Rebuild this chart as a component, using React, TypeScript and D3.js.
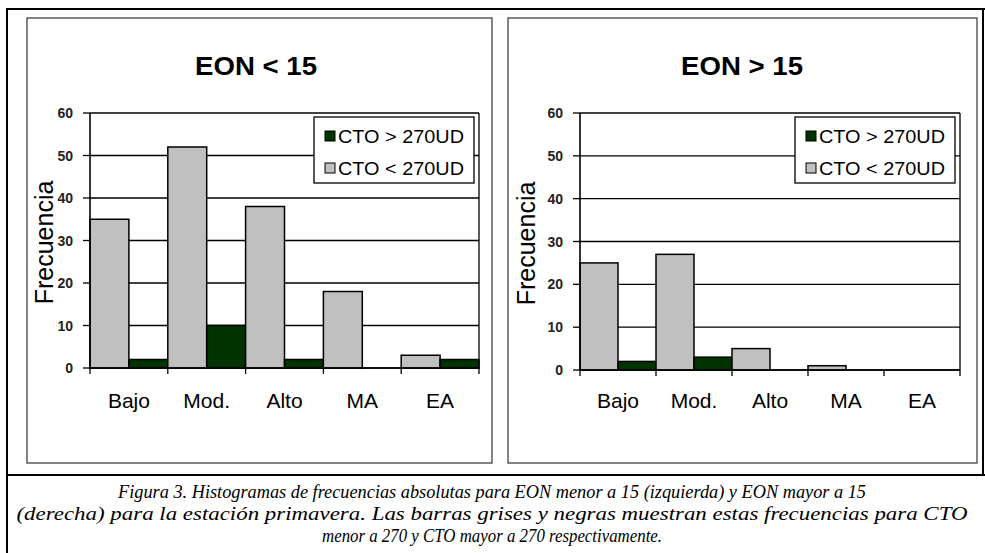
import React from "react";
import * as d3 from "d3";

// Frequency classes on the x axis
const categories = ["Bajo", "Mod.", "Alto", "MA", "EA"];
// Legend entries (dark series listed first)
const seriesHigh = "CTO > 270UD";
const seriesLow = "CTO < 270UD";

// EON < 15
const leftLow = [35, 52, 38, 18, 3];
const leftHigh = [2, 10, 2, 0, 2];
// EON > 15
const rightLow = [25, 27, 5, 1, 0];
const rightHigh = [2, 3, 0, 0, 0];

const yTicks = [0, 10, 20, 30, 40, 50, 60];
const titles = ["EON < 15", "EON > 15"];
const yLabel = "Frecuencia";

const captionLines = [
  "Figura 3. Histogramas de frecuencias absolutas para EON menor a 15 (izquierda) y EON mayor a 15",
  "(derecha) para la estación primavera. Las barras grises y negras muestran estas frecuencias para CTO",
  "menor a 270 y CTO mayor a 270 respectivamente.",
];

const W = 985;
const H = 553;
const SANS = "'Liberation Sans', Arial, Helvetica, sans-serif";
const SERIF = "'Liberation Serif', 'Times New Roman', Times, serif";
const GRAY = "#c0c0c0";
const DARK = "#003300";

type PanelProps = {
  frame: [number, number, number, number];
  plot: { x0: number; x1: number; y0: number; y1: number };
  title: string;
  titleX: number;
  low: number[];
  high: number[];
  yLabelX: number;
};

function Panel({ frame, plot, title, titleX, low, high, yLabelX }: PanelProps) {
  const x = d3.scaleBand<string>().domain(categories).range([plot.x0, plot.x1]).padding(0);
  const inner = d3.scaleBand<string>().domain(["low", "high"]).range([0, x.bandwidth()]).padding(0);
  const y = d3.scaleLinear().domain([0, 60]).range([plot.y0, plot.y1]);

  const bars: { key: string; x: number; y: number; w: number; h: number; fill: string }[] = [];
  categories.forEach((c, i) => {
    const pairs: [string, number, string][] = [
      ["low", low[i], GRAY],
      ["high", high[i], DARK],
    ];
    pairs.forEach(([k, v, fill]) => {
      if (v <= 0) return;
      bars.push({
        key: c + k,
        x: (x(c) as number) + (inner(k) as number),
        y: y(v),
        w: inner.bandwidth(),
        h: y(0) - y(v),
        fill,
      });
    });
  });

  const legX0 = plot.x1 - 165;
  const legX1 = plot.x1 - 5;
  const legY0 = y(60) + 4;
  const legY1 = y(60) + 70;

  const boundaries = [plot.x0, ...categories.map((c) => (x(c) as number) + x.bandwidth())];

  return (
    <g>
      <rect x={frame[0]} y={frame[1]} width={frame[2] - frame[0]} height={frame[3] - frame[1]}
        fill="#fff" stroke="#333" strokeWidth={1.2} />
      <text x={titleX} y={75} textAnchor="middle" fontFamily={SANS} fontWeight="bold" fontSize={26}
        textLength={122} lengthAdjust="spacingAndGlyphs">{title}</text>

      {/* gridlines */}
      {yTicks.map((t) => (
        <line key={"g" + t} x1={plot.x0} x2={plot.x1} y1={y(t)} y2={y(t)} stroke="#000" strokeWidth={1.3} />
      ))}
      <line x1={plot.x1} x2={plot.x1} y1={y(60)} y2={y(0)} stroke="#000" strokeWidth={1.3} />

      {/* bars */}
      {bars.map((b) => (
        <rect key={b.key} x={b.x} y={b.y} width={b.w} height={b.h} fill={b.fill} stroke="#000" strokeWidth={1.5} />
      ))}

      {/* axes */}
      <line x1={plot.x0} x2={plot.x0} y1={y(60)} y2={y(0)} stroke="#000" strokeWidth={1.6} />
      <line x1={plot.x0} x2={plot.x1} y1={y(0)} y2={y(0)} stroke="#000" strokeWidth={1.6} />
      {yTicks.map((t) => (
        <g key={"t" + t}>
          <line x1={plot.x0 - 7} x2={plot.x0} y1={y(t)} y2={y(t)} stroke="#000" strokeWidth={1.3} />
          <text x={plot.x0 - 17} y={y(t) + 5} textAnchor="end" fontFamily={SANS} fontSize={14}
            fontWeight={600} fill="#222">
            {t}
          </text>
        </g>
      ))}
      {boundaries.map((bx, i) => (
        <line key={"xt" + i} x1={bx} x2={bx} y1={y(0)} y2={y(0) + 6} stroke="#000" strokeWidth={1.3} />
      ))}
      {categories.map((c) => (
        <text key={"c" + c} x={(x(c) as number) + x.bandwidth() / 2} y={408} textAnchor="middle"
          fontFamily={SANS} fontSize={21}>{c}</text>
      ))}
      <text transform={`translate(${yLabelX},${(y(0) + y(60)) / 2 + 2}) rotate(-90)`} textAnchor="middle"
        fontFamily={SANS} fontSize={25}>{yLabel}</text>

      {/* legend */}
      <rect x={legX0} y={legY0} width={legX1 - legX0} height={legY1 - legY0} fill="#fff" stroke="#000" strokeWidth={1.3} />
      {[
        [seriesHigh, DARK, 0],
        [seriesLow, GRAY, 1],
      ].map(([label, fill, i]) => {
        const cy = legY0 + 19 + (i as number) * 32;
        return (
          <g key={label as string}>
            <rect x={legX0 + 11} y={cy - 5} width={10} height={10} fill={fill as string} stroke="#000" strokeWidth={1} />
            <text x={legX0 + 24} y={cy + 6.5} fontFamily={SANS} fontSize={19}
              textLength={126} lengthAdjust="spacingAndGlyphs">{label as string}</text>
          </g>
        );
      })}
    </g>
  );
}

export default function App() {
  // line widths of the centred caption block
  const captionLens = [748, 951, 340];
  return (
    <div style={{ position: "absolute", left: 0, top: 0 }}>
      <svg width={W} height={H} viewBox={`0 0 ${W} ${H}`} style={{ display: "block", background: "#fff" }}>
        <rect x={0} y={0} width={W} height={H} fill="#fff" />
        {/* outer figure frame */}
        <line x1={7} x2={7} y1={8} y2={H} stroke="#000" strokeWidth={2} />
        <line x1={6} x2={W} y1={9} y2={9} stroke="#000" strokeWidth={2} />
        <line x1={983} x2={983} y1={8} y2={476} stroke="#000" strokeWidth={2} />
        <line x1={6} x2={W} y1={475} y2={475} stroke="#000" strokeWidth={2} />

        <Panel frame={[27, 18, 492, 463]} plot={{ x0: 90, x1: 479, y0: 368, y1: 113 }}
          title={titles[0]} titleX={256} low={leftLow} high={leftHigh} yLabelX={53} />
        <Panel frame={[508, 18, 977, 463]} plot={{ x0: 580, x1: 960, y0: 370, y1: 113 }}
          title={titles[1]} titleX={742} low={rightLow} high={rightHigh} yLabelX={535} />

        {captionLines.map((t, i) => (
          <text key={i} x={492} y={498 + i * 22} textAnchor="middle" fontFamily={SERIF} fontStyle="italic"
            fontSize={18.3} textLength={captionLens[i]} lengthAdjust="spacingAndGlyphs">{t}</text>
        ))}
      </svg>
    </div>
  );
}
